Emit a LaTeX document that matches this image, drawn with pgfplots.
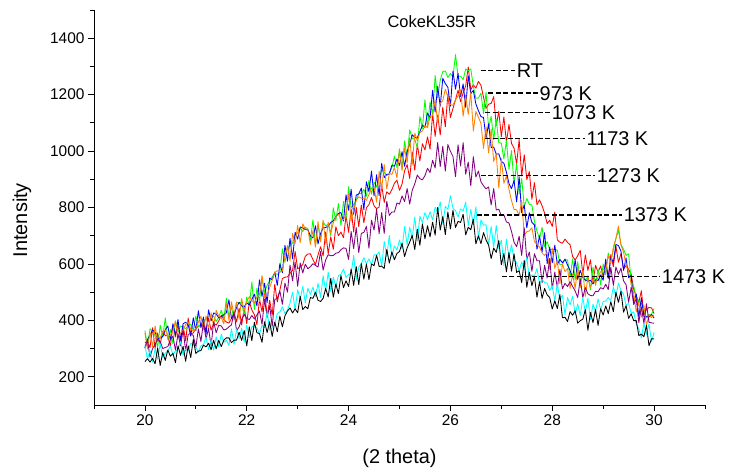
\documentclass[border=0pt]{standalone}
\usepackage{fontspec}
\setmainfont{Liberation Sans}
\usepackage{pgfplots}
\usepackage{pgfplotstable}
\pgfplotsset{compat=1.18}
\definecolor{myorange}{RGB}{255,128,0}
\definecolor{mypurple}{RGB}{128,0,128}
\definecolor{mygreen}{RGB}{0,255,0}
\definecolor{mycyan}{RGB}{0,255,255}
\definecolor{myred}{RGB}{255,0,0}
\definecolor{myblue}{RGB}{0,0,255}
\pgfplotstableread{
x G B O R P C K
20.00 364 301 355 320 302 312 254
20.05 308 332 299 327 330 262 264
20.10 370 347 357 303 270 293 252
20.15 362 366 307 374 300 252 265
20.20 346 358 380 300 315 300 246
20.25 304 334 325 355 333 262 302
20.30 383 338 337 315 325 317 240
20.35 341 342 360 362 300 268 286
20.40 409 367 366 346 304 284 258
20.45 332 380 343 345 307 292 295
20.50 368 330 347 307 332 309 273
20.55 317 388 362 383 344 277 283
20.60 397 347 398 341 294 292 250
20.65 361 403 338 385 352 296 310
20.70 380 330 355 317 310 326 276
20.75 376 388 366 381 366 277 308
20.80 371 393 385 327 292 298 255
20.85 379 385 393 408 350 293 310
20.90 386 344 369 353 354 319 268
20.95 366 409 361 355 346 314 332
21.00 415 364 371 372 304 305 283
21.05 377 434 394 379 370 288 291
21.10 388 374 415 381 325 310 293
21.15 397 412 367 382 394 314 312
21.20 406 350 416 368 334 341 306
21.25 412 437 370 407 371 296 319
21.30 412 398 427 365 309 330 296
21.35 414 426 381 390 395 294 329
21.40 396 423 436 383 356 342 299
21.45 411 409 414 398 383 306 329
21.50 436 412 409 418 380 351 307
21.55 404 420 387 402 366 322 330
21.60 478 427 462 394 369 329 338
21.65 412 473 400 390 377 311 338
21.70 448 406 466 407 384 370 321
21.75 402 420 419 428 430 315 330
21.80 464 446 465 394 363 368 330
21.85 462 464 404 443 377 336 358
21.90 464 451 477 383 403 372 329
21.95 416 448 435 446 421 323 364
22.00 483 462 466 388 407 383 309
22.05 450 455 484 466 403 339 377
22.10 536 474 470 437 417 378 328
22.15 439 493 462 420 405 377 393
22.20 514 451 483 385 419 373 356
22.25 467 544 490 476 433 352 353
22.30 552 485 559 430 386 383 322
22.35 498 532 481 506 474 374 395
22.40 525 463 489 413 410 432 357
22.45 538 550 516 471 452 365 395
22.50 555 544 542 418 378 374 343
22.55 567 571 570 528 474 386 394
22.60 563 524 576 465 478 424 360
22.65 570 601 571 507 504 430 415
22.70 654 569 575 548 457 448 377
22.75 606 666 628 553 532 424 416
22.80 654 610 665 554 500 437 433
22.85 666 691 611 567 596 461 444
22.90 674 618 708 577 540 500 426
22.95 700 712 672 644 607 438 441
23.00 711 688 736 583 521 508 427
23.05 727 731 675 589 603 476 485
23.10 715 728 742 598 568 521 438
23.15 730 722 724 627 599 462 449
23.20 725 721 723 635 583 514 441
23.25 684 700 669 636 590 492 481
23.30 756 692 718 615 601 518 478
23.35 667 735 659 598 595 484 500
23.40 736 671 750 632 589 531 471
23.45 690 708 678 661 644 481 467
23.50 749 728 755 628 578 558 478
23.55 735 729 673 713 614 505 513
23.60 741 734 748 636 633 571 483
23.65 701 747 709 696 629 502 549
23.70 799 753 746 652 630 553 482
23.75 754 768 768 732 638 520 529
23.80 814 779 776 700 640 559 495
23.85 736 782 758 713 650 563 559
23.90 822 752 757 693 657 582 516
23.95 761 845 777 771 655 552 540
24.00 874 790 850 712 616 563 520
24.05 799 865 751 795 715 565 582
24.10 810 776 792 713 654 630 524
24.15 827 844 825 801 729 544 591
24.20 850 848 838 732 640 588 526
24.25 849 869 833 809 708 602 601
24.30 864 792 833 746 712 622 546
24.35 840 891 825 799 733 601 600
24.40 896 856 846 810 656 618 544
24.45 847 929 869 835 755 597 600
24.50 890 841 872 806 720 632 594
24.55 873 916 819 796 794 632 631
24.60 906 842 928 802 707 642 591
24.65 933 956 865 879 782 590 592
24.70 925 906 952 818 708 680 584
24.75 913 918 865 856 822 627 651
24.80 922 918 921 847 772 701 603
24.85 941 950 917 863 784 624 643
24.90 982 946 942 886 784 664 615
24.95 941 972 905 897 816 649 637
25.00 1008 949 1002 861 812 685 644
25.05 938 998 931 883 841 653 673
25.10 1036 946 1012 930 821 733 626
25.15 978 998 958 952 867 667 657
25.20 1075 1024 1048 903 812 730 677
25.25 1046 1058 951 997 861 691 701
25.30 1042 1048 1064 932 884 766 651
25.35 1012 1047 1037 1024 915 681 723
25.40 1122 1068 1066 965 902 769 666
25.45 1080 1092 1071 1026 898 747 742
25.50 1182 1084 1091 1004 913 782 689
25.55 1084 1135 1083 1050 939 757 735
25.60 1174 1117 1122 1007 924 785 696
25.65 1130 1215 1126 1134 967 756 748
25.70 1268 1138 1180 1052 940 801 702
25.75 1188 1229 1100 1128 1030 783 800
25.80 1251 1159 1169 1057 945 820 720
25.85 1282 1258 1179 1155 1017 742 768
25.90 1284 1239 1219 1086 929 804 704
25.95 1261 1226 1192 1202 1023 793 784
26.00 1275 1159 1165 1119 999 842 724
26.05 1263 1283 1162 1151 981 797 790
26.10 1342 1219 1182 1182 909 789 729
26.15 1265 1275 1195 1216 1022 766 751
26.20 1265 1193 1216 1175 947 795 747
26.25 1253 1238 1123 1206 1030 788 776
26.30 1291 1155 1199 1231 918 819 703
26.35 1284 1267 1130 1298 961 735 730
26.40 1291 1204 1208 1217 877 794 721
26.45 1229 1215 1071 1235 980 738 759
26.50 1187 1167 1140 1223 908 803 671
26.55 1188 1143 1120 1247 929 690 700
26.60 1205 1122 1098 1233 891 756 672
26.65 1133 1119 1009 1191 877 737 711
26.70 1208 1046 1086 1151 866 739 685
26.75 1079 1097 993 1166 873 666 667
26.80 1123 1013 1078 1169 809 733 619
26.85 1041 1014 963 1193 867 659 656
26.90 1112 989 990 1091 791 737 641
26.95 1030 990 869 1141 794 655 683
27.00 1028 963 973 1051 771 684 597
27.05 972 957 886 1121 774 593 637
27.10 1037 925 911 1030 749 688 572
27.15 935 885 864 1095 745 623 640
27.20 1002 867 824 1027 715 668 574
27.25 883 896 793 1010 677 615 636
27.30 955 820 792 954 661 604 570
27.35 848 909 772 1041 698 577 576
27.40 903 781 825 912 630 607 534
27.45 802 809 701 987 728 583 613
27.50 832 728 714 899 615 625 517
27.55 811 781 717 927 642 545 571
27.60 809 747 728 829 574 561 523
27.65 751 738 679 888 636 557 555
27.70 716 652 669 810 611 584 482
27.75 690 700 660 827 611 531 537
27.80 730 642 639 806 534 545 478
27.85 661 711 630 780 595 534 513
27.90 679 601 640 743 550 532 490
27.95 651 660 581 755 620 506 481
28.00 651 604 656 733 511 523 440
28.05 652 667 584 784 571 469 469
28.10 649 598 612 685 516 530 442
28.15 597 616 530 677 580 470 492
28.20 598 604 600 673 512 490 409
28.25 615 617 573 688 531 420 411
28.30 614 596 584 676 520 481 396
28.35 553 577 513 668 537 455 431
28.40 618 551 564 626 520 485 418
28.45 544 614 513 614 504 421 434
28.50 608 545 588 629 481 458 390
28.55 539 577 517 648 547 417 399
28.60 574 552 576 563 481 481 404
28.65 539 543 485 632 516 428 438
28.70 558 539 555 577 494 479 365
28.75 508 542 515 615 488 403 428
28.80 589 529 546 532 487 457 392
28.85 524 544 529 595 503 432 438
28.90 582 541 555 571 502 476 382
28.95 526 561 572 593 516 437 441
29.00 600 542 581 554 511 467 419
29.05 562 617 577 599 528 468 451
29.10 639 549 630 549 509 481 424
29.15 608 622 602 633 588 470 466
29.20 650 606 660 590 524 519 431
29.25 690 669 690 663 589 485 500
29.30 719 665 734 606 563 532 464
29.35 668 645 666 637 585 505 504
29.40 652 577 642 582 540 492 429
29.45 630 621 595 594 526 453 452
29.50 636 551 572 581 464 461 407
29.55 539 559 528 564 518 425 423
29.60 521 462 495 510 456 430 399
29.65 482 494 430 486 477 385 399
29.70 469 411 464 464 392 370 346
29.75 458 480 412 505 448 338 351
29.80 435 414 455 420 389 390 342
29.85 409 413 381 438 459 349 382
29.90 421 412 420 446 393 388 310
29.95 422 421 410 444 391 324 335
30.00 442 408 419 424 390 358 334
}\xrd

\begin{document}
\begin{tikzpicture}
\useasboundingbox (-94bp,-69bp) rectangle (635bp,405bp);
\begin{axis}[
  at={(0,0)}, anchor=south west,
  scale only axis, width=611bp, height=395bp,
  xmin=19, xmax=31, ymin=100, ymax=1500,
  axis x line*=bottom, axis y line*=left,
  tick align=outside,
  xtick={20,22,...,30}, minor xtick={19,21,...,31},
  ytick={200,400,...,1400}, minor ytick={300,500,...,1500},
  major tick length=6bp, minor tick length=4bp,
  every tick/.style={black, line width=0.8bp},
  axis line style={line width=0.8bp},
  tick label style={font=\fontsize{15.5}{18}\selectfont},
  /pgf/number format/assume math mode=true,
  /pgf/number format/1000 sep={},
  xlabel={(2 theta)}, ylabel={Intensity},
  label style={font=\fontsize{20}{24}\selectfont},
  xlabel style={at={(axis description cs:0.5,-0.134)}, anchor=center},
  ylabel style={at={(axis description cs:-0.118,0.468)}, anchor=center},
  clip=false,
  every axis plot/.append style={line width=0.85bp, line join=round},
]
\addplot[myred] table[x=x,y=R]{\xrd};
\addplot[mygreen] table[x=x,y=G]{\xrd};
\addplot[myblue] table[x=x,y=B]{\xrd};
\addplot[myorange] table[x=x,y=O]{\xrd};
\addplot[mypurple] table[x=x,y=P]{\xrd};
\addplot[mycyan] table[x=x,y=C]{\xrd};
\addplot[black] table[x=x,y=K]{\xrd};

\node[font=\fontsize{16.5}{20}\selectfont] at (rel axis cs:0.553,0.97) {CokeKL35R};

\begin{scope}[every node/.style={right, inner sep=1bp, font=\fontsize{20}{24}\selectfont}]
\draw[black, line width=1.5bp, dash pattern=on 5bp off 2.5bp] (axis cs:26.60,1285) -- (axis cs:27.27,1285) node{RT};
\draw[black, line width=1.5bp, dash pattern=on 5bp off 2.5bp] (axis cs:26.74,1205) -- (axis cs:27.72,1205) node{973 K};
\draw[black, line width=1.5bp, dash pattern=on 5bp off 2.5bp] (axis cs:26.68,1136) -- (axis cs:27.96,1136) node{1073 K};
\draw[black, line width=1.5bp, dash pattern=on 5bp off 2.5bp] (axis cs:26.68,1045) -- (axis cs:28.64,1045) node{1173 K};
\draw[black, line width=1.5bp, dash pattern=on 5bp off 2.5bp] (axis cs:26.60,913) -- (axis cs:28.84,913) node{1273 K};
\draw[black, line width=1.5bp, dash pattern=on 5bp off 2.5bp] (axis cs:26.52,774) -- (axis cs:29.37,774) node{1373 K};
\draw[black, line width=1.5bp, dash pattern=on 5bp off 2.5bp] (axis cs:27.01,555) -- (axis cs:30.12,555) node{1473 K};
\end{scope}
\end{axis}
\end{tikzpicture}
\end{document}
